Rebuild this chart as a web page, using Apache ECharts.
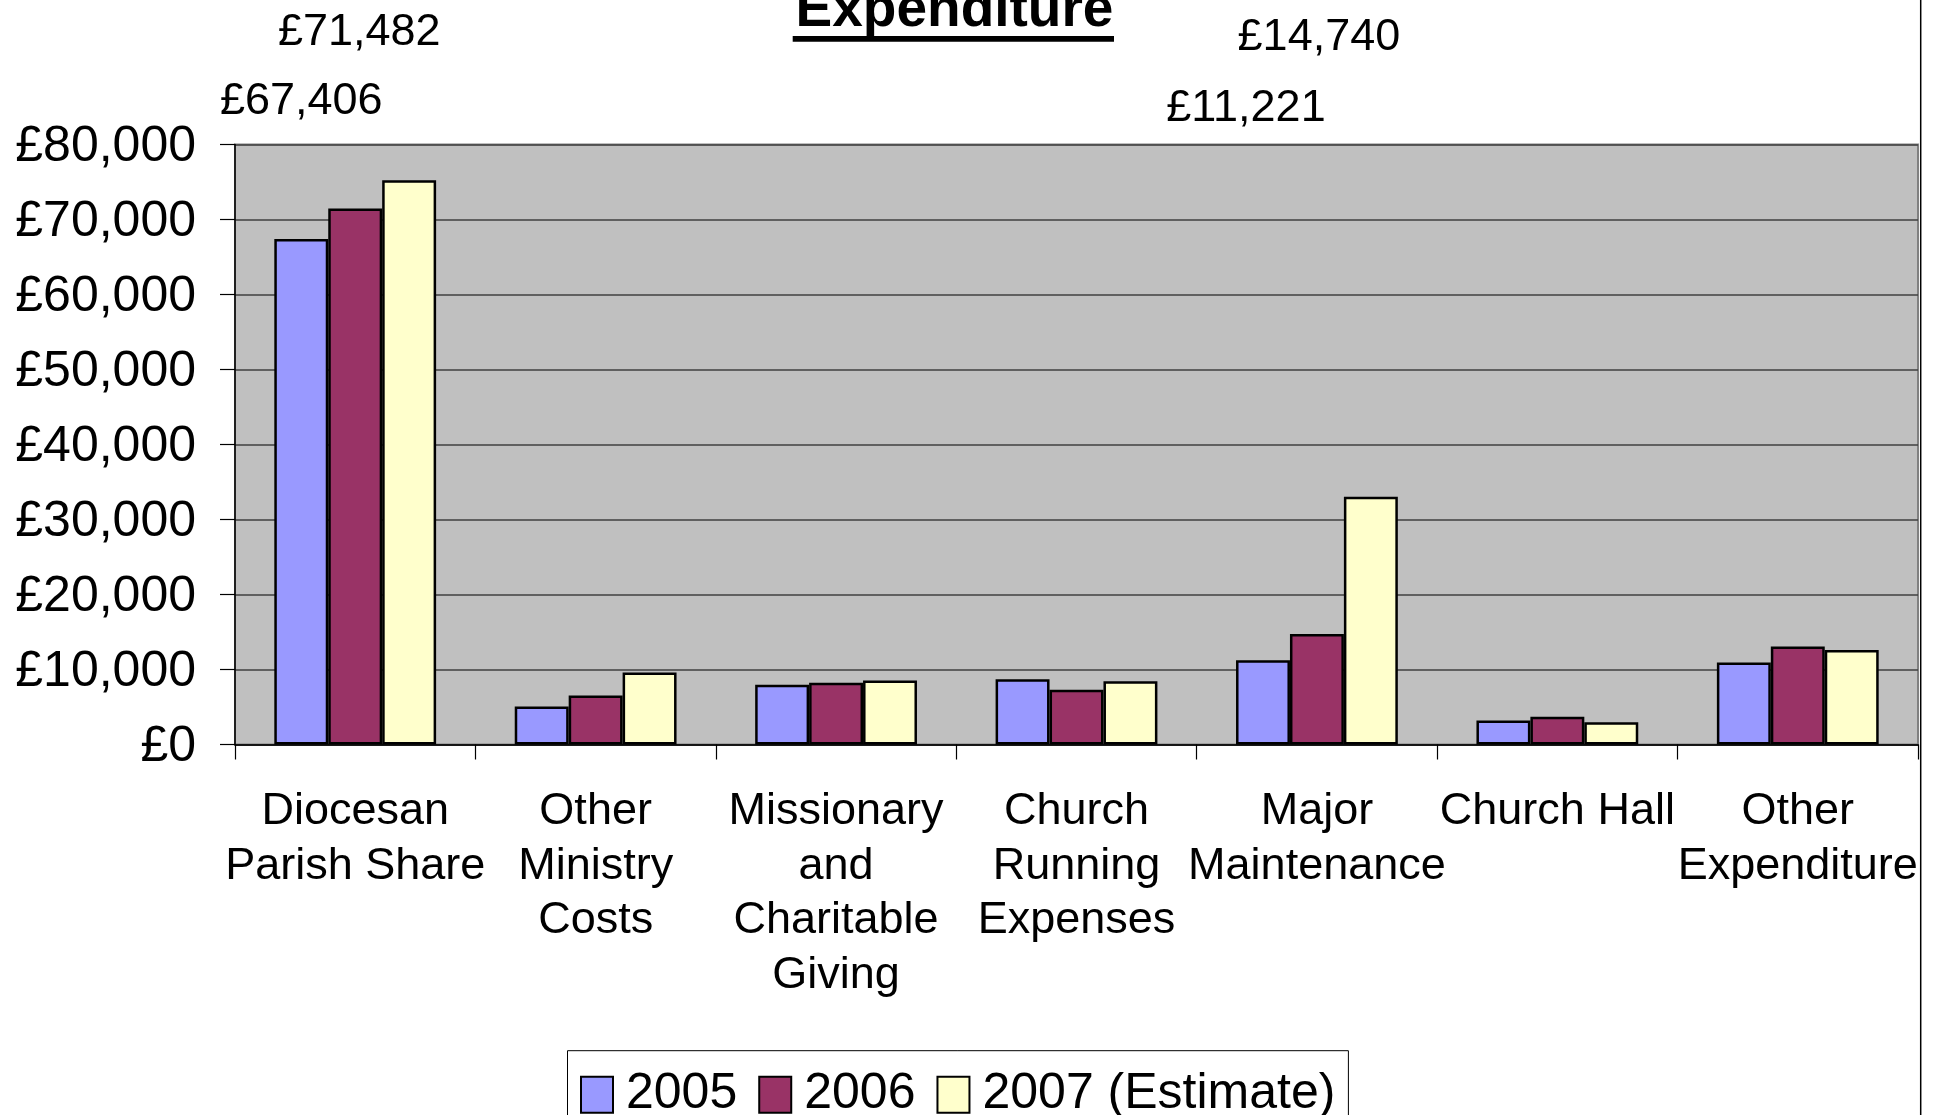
<!DOCTYPE html>
<html>
<head>
<meta charset="utf-8">
<style>
  html, body { margin: 0; padding: 0; background: #fff; }
  #chart { width: 1943px; height: 1115px; }
</style>
<script src="https://cdn.jsdelivr.net/npm/echarts@6/dist/echarts.min.js"></script>
</head>
<body>
<div id="chart"></div>
<script>
// ---- Data ----
const categories = [
  "Diocesan\nParish Share",
  "Other\nMinistry\nCosts",
  "Missionary\nand\nCharitable\nGiving",
  "Church\nRunning\nExpenses",
  "Major\nMaintenance",
  "Church Hall",
  "Other\nExpenditure"
];
const seriesNames = ["2005", "2006", "2007 (Estimate)"];
const values2005 = [67406, 5070, 7980, 8700, 11221, 3200, 10950];
const values2006 = [71482, 6550, 8250, 7310, 14740, 3690, 13080];
const values2007 = [75220, 9600, 8520, 8430, 33020, 2980, 12600];
const yTicks = { min: 0, max: 80000, interval: 10000 };
const titleText = "Expenditure";

// ---- Styles ----
const FONT = '"Liberation Sans", Arial, sans-serif';
const colors = ["#9999FF", "#993366", "#FFFFCC"];
// labelled points: [seriesIndex, categoryIndex, offsetX, offsetY]
const labelled = [
  [0, 0, 0, -112.5],
  [1, 0, 4, -150.5],
  [0, 4, -17, -526.5],
  [1, 4, 2, -571.5]
];

function fmtGBP(v) {
  return "£" + Math.round(v).toString().replace(/\B(?=(\d{3})+(?!\d))/g, ",");
}

function buildData(vals, sIdx) {
  return vals.map((v, cIdx) => {
    const hit = labelled.find(l => l[0] === sIdx && l[1] === cIdx);
    if (!hit) return v;
    return {
      value: v,
      label: {
        show: true,
        position: "top",
        distance: 0,
        offset: [hit[2], hit[3]],
        formatter: p => fmtGBP(p.value),
        fontFamily: FONT,
        fontSize: 45,
        lineHeight: 50,
        color: "#000"
      }
    };
  });
}

const allValues = [values2005, values2006, values2007];

const chart = echarts.init(document.getElementById("chart"));
const option = {
  animation: false,
  backgroundColor: "#fff",
  title: {
    text: titleText,
    left: 954.5,
    top: -17,
    padding: 0,
    textAlign: "center",
    textStyle: {
      fontFamily: FONT,
      fontWeight: "bold",
      fontSize: 55,
      lineHeight: 55,
      color: "#000"
    }
  },
  graphic: [
    { type: "rect", shape: { x: 792.7, y: 36, width: 321.3, height: 5.7 }, style: { fill: "#000" }, silent: true },
    { type: "line", shape: { x1: 1920.7, y1: 0, x2: 1920.7, y2: 1115 }, style: { stroke: "#000", lineWidth: 1.5 }, silent: true }
  ],
  legend: {
    data: seriesNames,
    icon: "rect",
    left: 567.5,
    top: 1050.7,
    orient: "horizontal",
    padding: [19, 13, 19, 12.5],
    itemWidth: 32,
    itemHeight: 36,
    itemGap: 21,
    backgroundColor: "#fff",
    borderColor: "#000",
    borderWidth: 1,
    textStyle: {
      fontFamily: FONT,
      fontSize: 50,
      color: "#000",
      padding: [0, 0, 0, 8]
    }
  },
  grid: {
    left: 235,
    right: 25,
    top: 144.5,
    bottom: 370.5,
    show: true,
    backgroundColor: "#C0C0C0",
    borderColor: "#808080",
    borderWidth: 2
  },
  xAxis: {
    type: "category",
    data: categories,
    axisLine: { show: true, lineStyle: { color: "#000", width: 1.5 } },
    axisTick: { show: true, length: 15, lineStyle: { color: "#000", width: 1.2 } },
    axisLabel: {
      interval: 0,
      fontFamily: FONT,
      fontSize: 45,
      lineHeight: 54.5,
      margin: 40,
      color: "#000"
    },
    splitLine: { show: false }
  },
  yAxis: {
    type: "value",
    min: yTicks.min,
    max: yTicks.max,
    interval: yTicks.interval,
    axisLine: { show: true, lineStyle: { color: "#000", width: 1.5 } },
    axisTick: { show: true, length: 15, lineStyle: { color: "#000", width: 1.2 } },
    axisLabel: {
      formatter: v => "{a|" + fmtGBP(v) + "}",
      rich: {
        a: {
          fontFamily: FONT,
          fontSize: 50,
          color: "#000",
          padding: [6, 0, 0, 0]
        }
      },
      fontFamily: FONT,
      fontSize: 50,
      margin: 39,
      color: "#000"
    },
    splitLine: { show: true, lineStyle: { color: "#404040", width: 1.5 } }
  },
  series: seriesNames.map((name, i) => ({
    name: name,
    type: "bar",
    data: buildData(allValues[i], i),
    barGap: "0%",
    barCategoryGap: "32.7%",
    itemStyle: { color: colors[i], borderColor: "#000", borderWidth: 2.5 },
    label: { show: false },
    emphasis: { disabled: true }
  }))
};
chart.setOption(option);
</script>
</body>
</html>
